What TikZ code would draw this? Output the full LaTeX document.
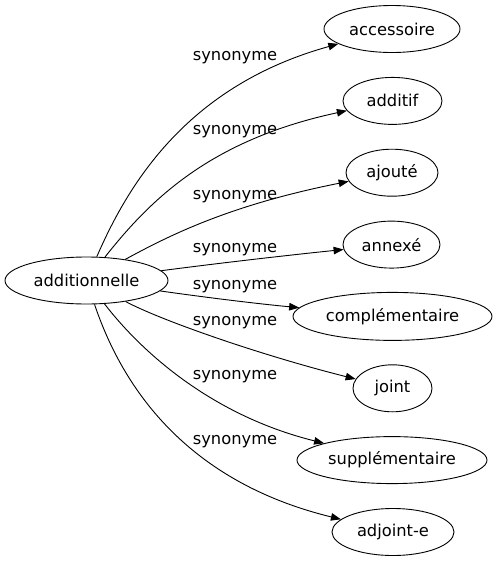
\documentclass[tikz,border=0pt]{standalone}
\usepackage{fontspec}
\setmainfont{DejaVu Sans}
\usetikzlibrary{shapes.geometric,arrows.meta}
\begin{document}
\begin{tikzpicture}[x=1pt,y=-1pt,
  nd/.style={draw,ellipse,line width=0.9pt,inner sep=0pt,minimum height=47pt,font=\fontsize{16.3}{19}\selectfont},
  lbl/.style={font=\fontsize{16.3}{19}\selectfont,inner sep=0pt},
  edge/.style={line width=0.9pt,-{Triangle[length=10pt,width=7.5pt]}}]
\useasboundingbox (0,0) rectangle (496,563);
\node[nd,minimum width=163pt] (root) at (86.5,280.5) {additionnelle};
\node[nd,minimum width=136pt] (n1) at (392,29) {accessoire};
\node[nd,minimum width=99pt] (n2) at (392.5,100.9) {additif};
\node[nd,minimum width=92pt] (n3) at (392,172.7) {ajouté};
\node[nd,minimum width=97pt] (n4) at (391.5,244.6) {annexé};
\node[nd,minimum width=199pt,minimum height=48pt] (n5) at (392.5,316.4) {complémentaire};
\node[nd,minimum width=79pt] (n6) at (392.5,388.3) {joint};
\node[nd,minimum width=190pt] (n7) at (392,460.1) {supplémentaire};
\node[nd,minimum width=122pt] (n8) at (393,532) {adjoint-e};
\draw[edge] (root) .. controls (130,180) and (190,85) .. (n1);
\draw[edge] (root) .. controls (150,200) and (210,140) .. (n2);
\draw[edge] (root) .. controls (170,235) and (230,205) .. (n3);
\draw[edge] (root) .. controls (220,263) and (290,255) .. (n4);
\draw[edge] (root) .. controls (210,298) and (260,304) .. (n5);
\draw[edge] (root) .. controls (160,320) and (260,355) .. (n6);
\draw[edge] (root) .. controls (140,350) and (210,415) .. (n7);
\draw[edge] (root) .. controls (120,380) and (180,480) .. (n8);
\node[lbl] (l1) at (235,58) {synonyme};
\node[lbl] (l2) at (235,132) {synonyme};
\node[lbl] (l3) at (235,197) {synonyme};
\node[lbl] (l4) at (235,250) {synonyme};
\node[lbl] (l5) at (235,287) {synonyme};
\node[lbl] (l6) at (235,323) {synonyme};
\node[lbl] (l7) at (235,377) {synonyme};
\node[lbl] (l8) at (235,442) {synonyme};
\end{tikzpicture}
\end{document}
